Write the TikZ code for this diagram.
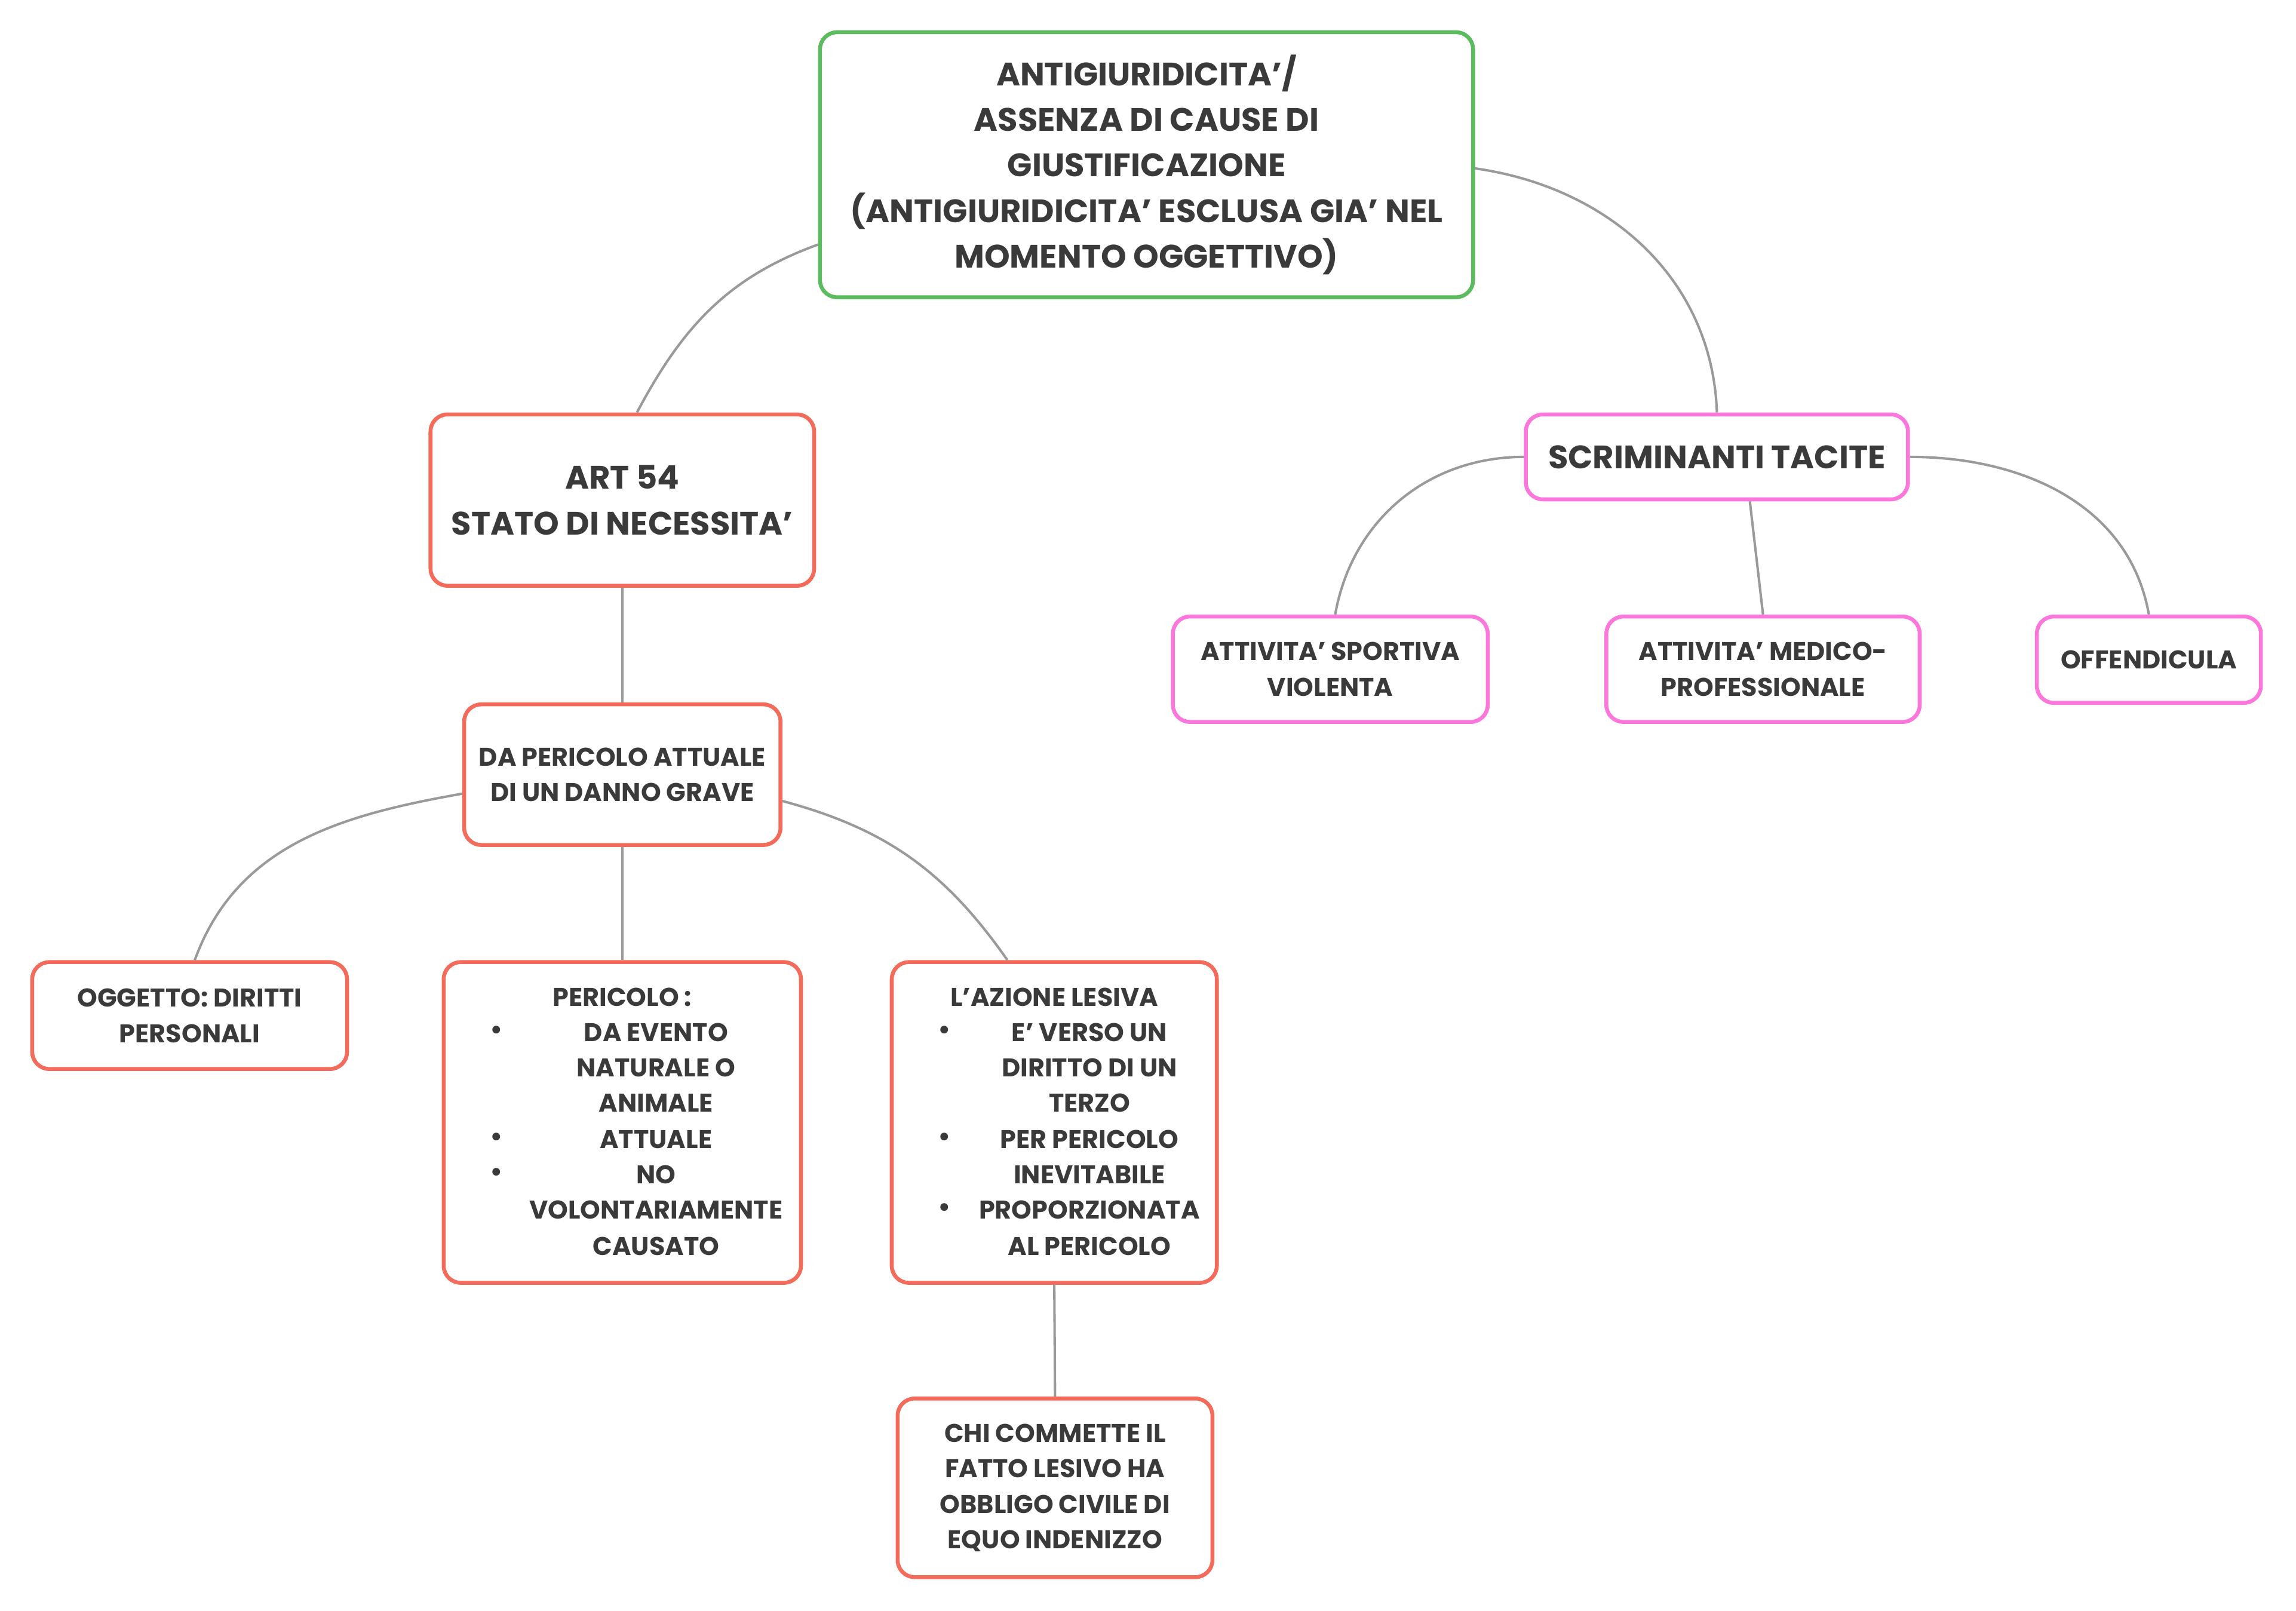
\documentclass[tikz,border=0pt]{standalone}
\usepackage{fontspec}
\setmainfont{Poppins}
\definecolor{txt}{HTML}{3A3A3A}
\definecolor{gbord}{HTML}{5DBB5F}
\definecolor{rbord}{HTML}{F36B5A}
\definecolor{pbord}{HTML}{FB77DC}
\definecolor{link}{HTML}{9A9A9A}
\begin{document}
\begin{tikzpicture}[x=0.6pt,y=-0.6pt,
  box/.style={draw, rounded corners=7pt, line width=1.6pt, fill=white, align=center,
    text=txt, inner sep=1pt},
  big/.style={font=\bfseries\fontsize{13.3}{18.7}\selectfont},
  small/.style={font=\bfseries\fontsize{10.5}{14.6}\selectfont},
  gbox/.style={box, big, draw=gbord},
  rbig/.style={box, big, draw=rbord},
  pbig/.style={box, big, draw=pbord},
  rsm/.style={box, small, draw=rbord},
  psm/.style={box, small, draw=pbord},
  ln/.style={small, text=txt, inner sep=0pt},
  conn/.style={draw=link, line width=1pt}
]
\fill[white] (0,0) rectangle (1568,1100);
\useasboundingbox (0,0) rectangle (1568,1100);

% nodes
\node[gbox, minimum width=267.6pt, minimum height=108.6pt] (root) at (783,112.5)
  {ANTIGIURIDICITA'/\\ASSENZA DI CAUSE DI\\GIUSTIFICAZIONE\\(ANTIGIURIDICITA' ESCLUSA GIA' NEL\\MOMENTO OGGETTIVO)};
\node[rbig, minimum width=157.2pt, minimum height=70.2pt] (art) at (425,341.5)
  {ART 54\\STATO DI NECESSITA'};
\node[pbig, minimum width=156.6pt, minimum height=34.8pt] (scr) at (1172.5,312)
  {SCRIMINANTI TACITE};
\node[psm, minimum width=129pt, minimum height=43.2pt] (spo) at (908.5,457)
  {ATTIVITA' SPORTIVA\\VIOLENTA};
\node[psm, minimum width=128.4pt, minimum height=43.2pt] (med) at (1204,457)
  {ATTIVITA' MEDICO-\\PROFESSIONALE};
\node[psm, minimum width=91.8pt, minimum height=35.4pt] (off) at (1467.5,450.5)
  {OFFENDICULA};
\node[rsm, minimum width=129.6pt, minimum height=57.6pt] (dap) at (425,529)
  {DA PERICOLO ATTUALE\\DI UN DANNO GRAVE};
\node[rsm, minimum width=129pt, minimum height=43.8pt] (ogg) at (129.5,693.5)
  {OGGETTO: DIRITTI\\PERSONALI};
\node[rsm, minimum width=146.4pt, minimum height=131.4pt] (per) at (425,766.5) {};
\node[rsm, minimum width=133.2pt, minimum height=131.4pt] (azi) at (720,766.5) {};
\node[rsm, minimum width=129pt, minimum height=73.2pt] (chi) at (720.5,1016)
  {CHI COMMETTE IL\\FATTO LESIVO HA\\OBBLIGO CIVILE DI\\EQUO INDENIZZO};

% PERICOLO contents
\node[ln] (p0) at (425,681) {PERICOLO :};
\node[ln] (pb1) at (339,705) {\textbullet};
\node[ln] (p1) at (448,705) {DA EVENTO};
\node[ln] (p2) at (448,729) {NATURALE O};
\node[ln] (p3) at (448,753) {ANIMALE};
\node[ln] (pb2) at (339,778) {\textbullet};
\node[ln] (p4) at (448,778) {ATTUALE};
\node[ln] (pb3) at (339,802) {\textbullet};
\node[ln] (p5) at (448,802) {NO};
\node[ln] (p6) at (448,826) {VOLONTARIAMENTE};
\node[ln] (p7) at (448,851) {CAUSATO};

% AZIONE contents
\node[ln] (a0) at (720,681) {L'AZIONE LESIVA};
\node[ln] (ab1) at (645,705) {\textbullet};
\node[ln] (a1) at (744,705) {E' VERSO UN};
\node[ln] (a2) at (744,729) {DIRITTO DI UN};
\node[ln] (a3) at (744,753) {TERZO};
\node[ln] (ab2) at (645,778) {\textbullet};
\node[ln] (a4) at (744,778) {PER PERICOLO};
\node[ln] (a5) at (744,802) {INEVITABILE};
\node[ln] (ab3) at (645,826) {\textbullet};
\node[ln] (a6) at (744,826) {PROPORZIONATA};
\node[ln] (a7) at (744,851) {AL PERICOLO};

% connectors
\draw[conn] ([yshift=-32.7pt]root.west) to[out=200,in=62] ([xshift=6pt]art.north);
\draw[conn] ([yshift=-1.5pt]root.east) to[out=-8,in=92] (scr.north);
\draw[conn] (scr.west) to[out=180,in=80] ([xshift=2pt]spo.north);
\draw[conn] ([xshift=13.5pt]scr.south) -- (med.north);
\draw[conn] (scr.east) to[out=0,in=100] (off.north);
\draw[conn] (art.south) -- (dap.north);
\draw[conn] ([yshift=-7.8pt]dap.west) to[out=190,in=70] ([xshift=2.1pt]ogg.north);
\draw[conn] (dap.south) -- (per.north);
\draw[conn] ([yshift=-10.8pt]dap.east) to[out=-15,in=125] ([xshift=-19.2pt]azi.north);
\draw[conn] (azi.south) -- (chi.north);
\end{tikzpicture}
\end{document}
